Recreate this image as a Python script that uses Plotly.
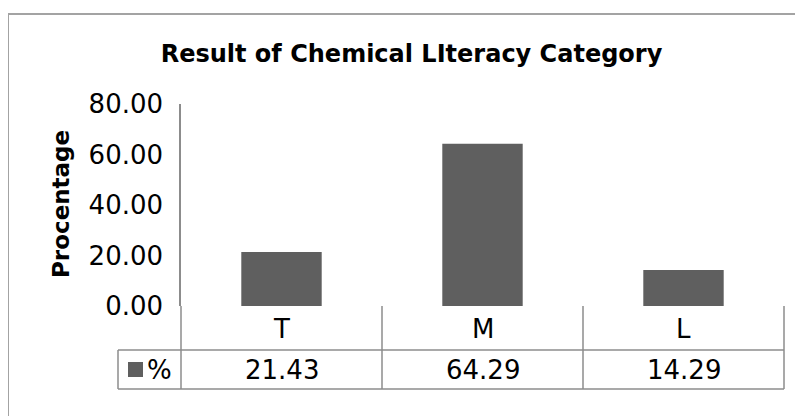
import plotly.graph_objects as go

# ---- data ----
categories = ["T", "M", "L"]
values = [21.43, 64.29, 14.29]
series_name = "%"
y_ticks = [0, 20, 40, 60, 80]
title_text = "Result of Chemical LIteracy Category"
y_title = "Procentage"

# ---- layout geometry (page pixels; the page body adds an 8px offset) ----
OFF = 8
W, H = 803 - OFF, 416 - OFF
L, R, T, B = 181, 784, 104, 306
PW, PH = R - L, B - T

def px(x):
    return (x - L) / PW

def py(y):
    return (B - y) / PH

BAR_COLOR = "#5f5f5f"
LINE_COLOR = "#8c8c8c"
FONT = "DejaVu Sans, Verdana, sans-serif"
FS = 26

fig = go.Figure()
fig.add_trace(go.Bar(
    x=categories, y=values, name=series_name, width=0.4,
    marker=dict(color=BAR_COLOR, line=dict(width=0)), showlegend=False,
))

shapes = []
# outer chart border (top + left)
shapes.append(dict(type="rect", xref="paper", yref="paper",
                   x0=px(8), x1=px(840), y0=py(14), y1=py(460),
                   line=dict(color="#a3a3a3", width=2), layer="below"))

row1_bot = py(350)
row2_bot = py(389)
leg_left = px(118)
tl = dict(color=LINE_COLOR, width=1.5)
# horizontal table lines
shapes.append(dict(type="line", xref="paper", yref="paper", x0=leg_left, x1=1, y0=row1_bot, y1=row1_bot, line=tl))
shapes.append(dict(type="line", xref="paper", yref="paper", x0=leg_left, x1=1, y0=row2_bot, y1=row2_bot, line=tl))
# vertical table lines
shapes.append(dict(type="line", xref="paper", yref="paper", x0=0, x1=0, y0=0, y1=row2_bot, line=tl))
shapes.append(dict(type="line", xref="paper", yref="paper", x0=1, x1=1, y0=0, y1=row2_bot, line=tl))
shapes.append(dict(type="line", xref="paper", yref="paper", x0=leg_left, x1=leg_left, y0=row1_bot, y1=row2_bot, line=tl))
for i in range(len(categories) - 1):
    shapes.append(dict(type="line", xref="x", yref="paper", x0=i + 0.5, x1=i + 0.5,
                       y0=0, y1=row2_bot, line=tl))
# legend key square
shapes.append(dict(type="rect", xref="paper", yref="paper",
                   x0=px(128), x1=px(143), y0=py(362), y1=py(377),
                   fillcolor=BAR_COLOR, line=dict(width=0)))

annotations = []
row1_mid = py(329)
row2_mid = py(370)
for c, v in zip(categories, values):
    annotations.append(dict(x=c, xref="x", y=row1_mid, yref="paper", text=c,
                            showarrow=False, font=dict(family=FONT, size=FS, color="black"),
                            xanchor="center", yanchor="middle"))
    annotations.append(dict(x=c, xref="x", y=row2_mid, yref="paper", text=f"{v:.2f}",
                            showarrow=False, font=dict(family=FONT, size=FS, color="black"),
                            xanchor="center", yanchor="middle"))
annotations.append(dict(x=px(145), xref="paper", y=row2_mid, yref="paper", text=series_name,
                        showarrow=False, font=dict(family=FONT, size=FS, color="black"),
                        xanchor="left", yanchor="middle"))
annotations.append(dict(x=px(61), xref="paper", y=py(204), yref="paper", text=f"<b>{y_title}</b>",
                        textangle=-90, showarrow=False,
                        font=dict(family=FONT, size=23, color="black"),
                        xanchor="center", yanchor="middle"))

fig.update_layout(
    width=W, height=H,
    margin=dict(l=L - OFF, r=W - (R - OFF), t=T - OFF, b=H - (B - OFF), pad=0),
    paper_bgcolor="white", plot_bgcolor="white",
    title=dict(text=f"<b>{title_text}</b>", x=(411.5 - OFF) / W, xanchor="center",
               y=1 - (54 - OFF) / H, yanchor="middle",
               font=dict(family=FONT, size=24, color="black")),
    xaxis=dict(range=[-0.5, 2.5], showticklabels=False, showgrid=False, zeroline=False,
               showline=False, ticks=""),
    yaxis=dict(range=[0, 80], tickvals=y_ticks, tickformat=".2f", showgrid=False,
               zeroline=False, showline=True, linecolor=LINE_COLOR, linewidth=1.5,
               ticks="outside", ticklen=11, tickcolor="rgba(0,0,0,0)",
               tickfont=dict(family=FONT, size=FS, color="black")),
    shapes=shapes, annotations=annotations, bargap=0.6,
)

fig.write_html("out.html")
